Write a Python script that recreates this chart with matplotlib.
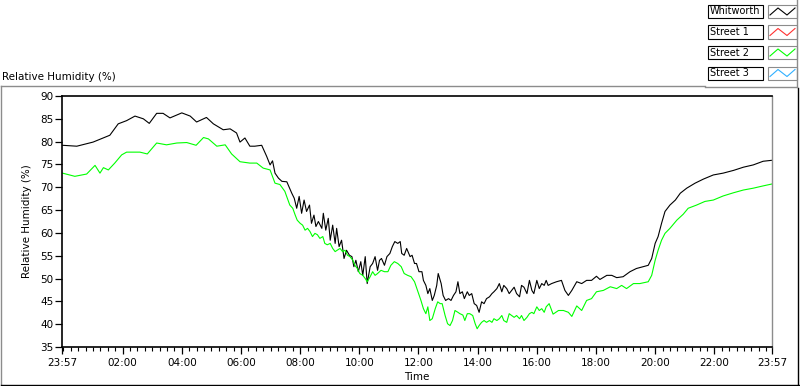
import numpy as np
import matplotlib
matplotlib.use("Agg")
import matplotlib.pyplot as plt
from matplotlib.lines import Line2D
from matplotlib.patches import Rectangle

# time axis: minutes after 23:57 (start of the 24 h window)
t_whitworth = [1, 30, 63, 97, 114, 131, 148, 165, 177, 192, 205, 219, 243, 260, 273,
               293, 307, 327, 341, 354, 361, 371, 381, 391, 405, 415, 422, 427, 432,
               439, 446, 456,
               466, 471, 476, 481, 486, 491, 496, 502, 506, 511, 515, 520, 527, 530,
               535, 540, 544, 549, 554, 557, 562, 567, 572, 577, 583, 588, 592, 596,
               601, 606, 610, 615, 619, 625, 630, 635, 640, 644,
               648, 654, 659, 665, 670, 675, 681, 686, 689, 694, 699, 706, 710, 715,
               719, 724, 730, 733, 738, 742, 746, 751, 755, 760, 763, 769, 773, 778,
               784, 789, 794, 799, 803, 807, 812, 816,
               822, 826, 831, 836, 841, 846, 851, 856, 861, 867, 872, 876, 882, 887,
               892, 896, 902, 907, 912, 917, 922, 928, 932, 937, 943, 948, 953, 957,
               963, 968, 973, 978, 982, 986,
               993, 1003, 1013, 1020, 1027, 1034, 1044, 1054, 1064,
               1074, 1084, 1091, 1105, 1115, 1125, 1138, 1152, 1165, 1179, 1189, 1196,
               1203, 1209, 1216, 1223, 1233, 1244, 1254, 1267, 1284, 1301, 1321, 1341,
               1362, 1382, 1402, 1422, 1439]
rh_whitworth = [79.2, 79.0, 79.9, 81.4, 83.9, 84.6, 85.6, 85.0, 84.0, 86.2, 86.2, 85.2,
                86.3, 85.6, 84.3, 85.3, 83.9, 82.6, 82.8, 81.9, 79.9, 80.8, 79.0, 79.0,
                79.2, 76.8, 74.9, 75.8, 73.1, 72.0, 71.3, 71.2,
                68.7, 67.6, 65.4, 68.0, 64.3, 67.2, 64.7, 66.1, 62.1, 63.9, 61.4, 62.5,
                61.0, 64.3, 60.6, 63.2, 58.4, 61.7, 57.7, 61.0, 57.0, 58.4, 54.4, 56.2,
                55.1, 54.8, 52.6, 54.0, 51.5, 53.7, 50.7, 54.8, 48.9, 52.6, 53.3, 54.8,
                51.8, 54.0,
                54.4, 52.9, 54.8, 55.5, 57.0, 58.1, 57.7, 58.1, 55.5, 55.1, 56.6, 54.8,
                55.1, 53.3, 53.3, 51.5, 51.5, 49.6, 48.5, 46.7, 47.8, 45.2, 46.3, 48.5,
                51.1, 48.9, 46.3, 45.2, 45.6, 45.2, 46.3, 47.1, 49.3, 46.7, 47.1, 45.6,
                47.1, 46.3, 46.7, 44.5, 44.1, 42.6, 44.9, 44.5, 45.6, 46.0, 46.7, 47.1,
                47.8, 48.9, 47.1, 48.5, 47.8, 46.7, 47.4, 48.1, 46.7, 46.0, 48.5, 48.1,
                46.7, 49.6, 47.4, 46.7, 49.6, 47.8, 48.9, 48.5, 49.6, 48.5,
                48.9, 49.3, 49.6, 47.4, 46.3, 47.4, 49.3, 48.9, 49.6,
                49.6, 50.5, 49.8, 50.7, 50.7, 50.2, 50.4, 51.5, 52.2, 52.6, 52.9, 54.4,
                57.7, 59.2, 62.1, 64.7, 66.1, 67.2, 68.7, 69.8, 70.9, 71.8, 72.7, 73.1,
                73.7, 74.4, 74.9, 75.7, 75.9]

t_street2 = [1, 26, 50, 67, 77, 84, 94, 107, 121, 131, 158, 173, 192, 212, 233, 253,
             272, 287, 297, 314, 331, 344, 361, 381, 395, 408, 422, 432, 442, 452,
             462, 468, 473, 477, 483, 488, 493, 498, 503, 508, 513, 518, 523, 529, 533,
             538, 544, 549, 554, 558, 564, 569, 574, 579, 584, 590, 594, 599, 604, 610,
             615, 619, 625, 630, 635, 640,
             647, 654, 661, 667, 674, 681, 688, 694, 701, 708, 715, 721, 728, 733,
             738, 742, 746, 751, 757, 762, 767, 771, 777, 782, 787, 792, 797, 803,
             807, 813, 817, 822, 827, 833, 838, 842, 846, 851, 856, 861, 867, 872,
             876, 882, 887, 892, 896, 902, 907, 912, 917, 922, 928, 932, 937, 943,
             948, 953, 957, 963, 968, 973, 978, 982, 988,
             996, 1007, 1017, 1027, 1034, 1044, 1054, 1064, 1074, 1084, 1098, 1112,
             1125, 1135, 1145, 1159, 1172, 1189, 1196, 1203, 1209, 1216, 1223, 1233,
             1247, 1260, 1270, 1287, 1304, 1321, 1341, 1362, 1382, 1402, 1422, 1439]
rh_street2 = [73.1, 72.4, 72.9, 74.8, 73.1, 74.3, 73.8, 75.3, 77.1, 77.7, 77.7, 77.3,
              79.7, 79.3, 79.7, 79.8, 79.2, 80.9, 80.6, 79.0, 79.3, 77.3, 75.6, 75.3,
              75.3, 74.2, 73.8, 70.9, 70.6, 69.1,
              66.1, 65.4, 63.9, 62.8, 62.1, 61.7, 60.6, 61.0, 60.3, 59.2, 59.9, 59.6,
              58.8, 59.2, 57.7, 57.4, 57.7, 56.6, 55.9, 56.2, 56.6, 55.9, 56.2, 55.1,
              54.8, 54.0, 52.9, 52.2, 51.1, 50.7, 50.0, 49.3, 50.4, 51.5, 50.7, 51.1,
              51.8, 51.5, 51.5, 52.9, 53.7, 53.3, 52.6, 51.1, 50.7, 50.4, 49.3, 47.4,
              45.2, 43.4, 42.3, 43.8, 40.8, 41.2, 43.4, 44.9, 44.5, 44.5, 41.9, 40.1,
              39.7, 40.8, 43.0, 42.6,
              42.3, 42.0, 40.8, 42.3, 42.3, 41.9, 40.1, 39.0, 39.7, 40.4, 40.8, 40.4,
              40.8, 40.4, 41.2, 40.8, 41.2, 41.9, 40.8, 40.4, 42.3, 41.9, 41.5, 41.9,
              41.2, 41.9, 40.8, 41.5, 42.3, 42.6, 42.3, 43.8, 43.0, 43.4, 42.6, 43.8,
              44.5,
              42.2, 43.0, 43.0, 42.6, 41.7, 44.0, 43.0, 45.2, 45.6, 47.1, 47.4, 48.2,
              47.8, 48.5, 47.8, 48.9, 48.9, 49.3, 50.7, 54.0, 56.2, 58.4, 59.9, 61.0,
              62.8, 64.1, 65.4, 66.1, 66.9, 67.2, 68.1, 68.8, 69.4, 69.8, 70.3, 70.7]

tick_labels = ["23:57", "02:00", "04:00", "06:00", "08:00", "10:00", "12:00",
               "14:00", "16:00", "18:00", "20:00", "22:00", "23:57"]
legend_names = ["Whitworth", "Street 1", "Street 2", "Street 3"]
legend_colors = ["#000000", "#ff3030", "#00ff00", "#30b0ff"]

W, H = 800, 386
fig = plt.figure(figsize=(W / 100, H / 100), dpi=100)
fig.patch.set_facecolor("white")


def fx(x):
    return x / W


def fy(y):
    return 1 - y / H


ax = fig.add_axes([fx(62), fy(347), 710 / W, 251 / H])
ax.plot(t_whitworth, rh_whitworth, color="black", lw=0.8)
ax.plot(t_street2, rh_street2, color="#00ff00", lw=0.8)

ax.set_xlim(0, 1440)
ax.set_ylim(35, 90)
ax.set_yticks(np.arange(35, 91, 5))
major = [0] + [h * 60 + 3 for h in range(2, 23, 2)] + [1440]
ax.set_xticks(major)
ax.set_xticklabels(tick_labels)
ax.set_xticks(np.arange(3, 1440, 15), minor=True)

ax.tick_params(axis="y", length=5, width=0.9, pad=1, labelsize=7.5)
ax.tick_params(axis="x", which="major", length=5, width=0.9, pad=3, labelsize=7.5)
ax.tick_params(axis="x", which="minor", length=3, width=0.8)
for s in ["top", "left", "bottom"]:
    ax.spines[s].set_color("black")
    ax.spines[s].set_linewidth(1.2)
ax.spines["right"].set_color("#8c8c8c")
ax.spines["right"].set_linewidth(1.0)

ax.set_ylabel("Relative Humidity (%)", fontsize=7.5, labelpad=6)
ax.set_xlabel("Time", fontsize=7.5, labelpad=3)

fig.text(fx(2), fy(77), "Relative Humidity (%)", fontsize=7.5, va="center", ha="left")


def fline(xs, ys, color, lw=1.0):
    fig.add_artist(Line2D([fx(x) for x in xs], [fy(y) for y in ys],
                          color=color, lw=lw, transform=fig.transFigure))


# outer frame of the graph panel
fline([1, 705], [86, 86], "#8c8c8c")
fline([1, 1], [86, 385], "#8c8c8c")
fline([1, 799], [385, 385], "black")
fline([798, 798], [88, 385], "black")
fline([705, 797], [87, 87], "#8c8c8c")
fline([797, 797], [0, 87], "#8c8c8c")

# legend (plot names + line samples)
for i, (name, col) in enumerate(zip(legend_names, legend_colors)):
    top = 5 + i * 20.5
    bot = top + 13
    fig.add_artist(Rectangle((fx(708), fy(bot)), 55 / W, 13 / H, fill=False,
                             edgecolor="black", lw=0.8, transform=fig.transFigure))
    fig.text(fx(710), fy(top + 6.5), name, fontsize=7, va="center", ha="left")
    fig.add_artist(Rectangle((fx(768), fy(bot)), 29 / W, 13 / H, fill=False,
                             edgecolor="#8c8c8c", lw=0.8, transform=fig.transFigure))
    fline([770, 778, 787, 795], [bot - 3, top + 3, bot - 3, top + 3], col, lw=0.8)

fig.savefig("out.png", dpi=100)
